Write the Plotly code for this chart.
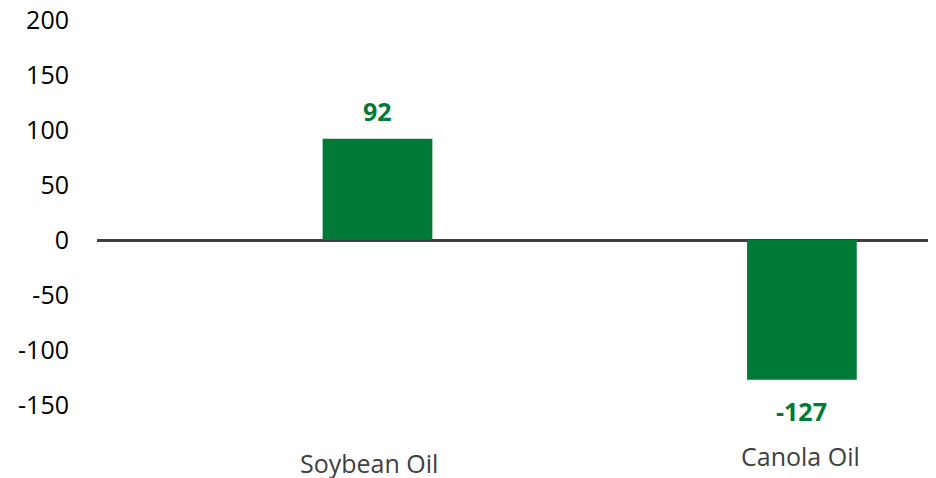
import plotly.graph_objects as go

categories = ["Soybean Oil", "Canola Oil"]
values = [92, -127]
tick_values = [-150, -100, -50, 0, 50, 100, 150, 200]

BAR_COLOR = "#007A37"
LABEL_COLOR = "#007A37"
FONT = "Open Sans, Segoe UI, sans-serif"

fig = go.Figure()
fig.add_trace(go.Bar(
    x=categories,
    y=values,
    width=0.2585,
    marker=dict(color=BAR_COLOR, line=dict(width=0)),
    hoverinfo="skip",
))

# value labels
for c, v in zip(categories, values):
    fig.add_annotation(
        x=c, y=v, xref="x", yref="y",
        text=f"<b>{v}</b>", showarrow=False,
        font=dict(family=FONT, size=25, color=LABEL_COLOR),
        yanchor="middle",
        yshift=28 if v >= 0 else -31,
    )

# category labels (positioned below the plot)
cat_shift = {"Soybean Oil": (-9, -223), "Canola Oil": (-1, -216)}
for c in categories:
    xs, ys = cat_shift[c]
    fig.add_annotation(
        x=c, y=0, xref="x", yref="y",
        text=c, showarrow=False,
        font=dict(family=FONT, size=25, color="#404040"),
        yanchor="middle", xshift=xs, yshift=ys,
    )

# the page body adds an 8px offset, so the figure is sized to fit the window
fig.update_layout(
    width=928, height=470,
    margin=dict(l=89, r=0, t=1, b=56, autoexpand=False),
    paper_bgcolor="white", plot_bgcolor="white",
    showlegend=False,
    font=dict(family=FONT, color="#000000"),
    xaxis=dict(
        range=[-0.661, 1.316],
        showticklabels=False, showgrid=False, zeroline=False,
        showline=False, ticks="", automargin=False,
    ),
    yaxis=dict(
        range=[-165.45, 210],
        tickvals=tick_values,
        ticktext=[str(t) for t in tick_values],
        tickfont=dict(family=FONT, size=25, color="#000000"),
        ticklabeloverflow="allow",
        showgrid=False,
        zeroline=True, zerolinecolor="#404040", zerolinewidth=3,
        showline=False, automargin=False,
        ticks="outside", ticklen=22, tickcolor="rgba(0,0,0,0)",
    ),
)

fig.write_html("out.html")
